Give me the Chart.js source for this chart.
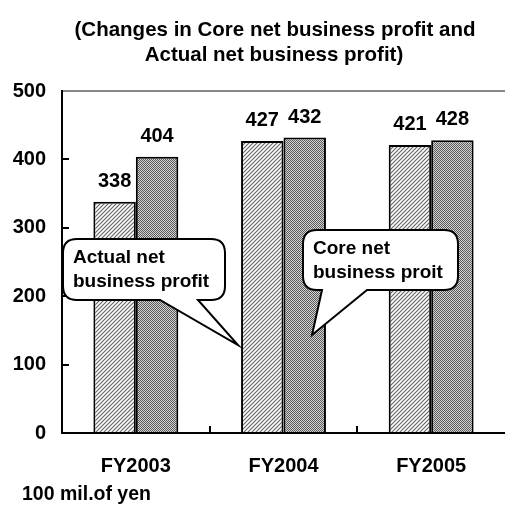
<!DOCTYPE html>
<html>
<head>
<meta charset="utf-8">
<script src="https://cdn.jsdelivr.net/npm/chart.js@4/dist/chart.umd.min.js"></script>
<style>
  html, body { margin: 0; padding: 0; background: #fff; overflow: hidden; }
</style>
</head>
<body>
<canvas id="chart" width="505" height="508"></canvas>
<script>
const years        = ['FY2003', 'FY2004', 'FY2005'];
const actualProfit = [338, 427, 421];
const coreProfit   = [404, 432, 428];
const yMax         = 500;
const yStep        = 100;
const titleLines   = ['(Changes in Core net business profit and', 'Actual net business profit)'];
const unitLabel    = '100 mil.of yen';
const actualNote   = ['Actual net', 'business profit'];
const coreNote     = ['Core net', 'business proit'];

const FONT = '"Liberation Sans", Arial, sans-serif';

/* ── Fill patterns ───────────────────────────────────────────── */

function hatchPattern(ctx) {
    const c = document.createElement('canvas');
    c.width = c.height = 4;
    const g = c.getContext('2d');
    g.fillStyle = '#fff';
    g.fillRect(0, 0, 4, 4);
    g.strokeStyle = '#666';
    g.lineWidth = 1.2;
    g.beginPath();
    g.moveTo(-1, 5); g.lineTo(5, -1);
    g.moveTo(-1, 1); g.lineTo(1, -1);
    g.moveTo(3, 5);  g.lineTo(5, 3);
    g.stroke();
    return ctx.createPattern(c, 'repeat');
}

function dotPattern(ctx) {
    const c = document.createElement('canvas');
    c.width = c.height = 2;
    const g = c.getContext('2d');
    g.fillStyle = '#d4d4d4';
    g.fillRect(0, 0, 2, 2);
    g.fillStyle = '#5a5a5a';
    g.fillRect(0, 0, 1, 1);
    g.fillRect(1, 1, 1, 1);
    return ctx.createPattern(c, 'repeat');
}

/* ── Callout drawing ─────────────────────────────────────────── */

function callout(ctx, box, tip, lines) {
    const { x, y, w, h, r, b1, b2 } = box;
    ctx.save();
    ctx.beginPath();
    ctx.moveTo(x + r, y);
    ctx.lineTo(x + w - r, y);
    ctx.quadraticCurveTo(x + w, y, x + w, y + r);
    ctx.lineTo(x + w, y + h - r);
    ctx.quadraticCurveTo(x + w, y + h, x + w - r, y + h);
    ctx.lineTo(b2, y + h);
    ctx.lineTo(tip.x, tip.y);
    ctx.lineTo(b1, y + h);
    ctx.lineTo(x + r, y + h);
    ctx.quadraticCurveTo(x, y + h, x, y + h - r);
    ctx.lineTo(x, y + r);
    ctx.quadraticCurveTo(x, y, x + r, y);
    ctx.closePath();
    ctx.fillStyle = '#fff';
    ctx.fill();
    ctx.lineWidth = 2;
    ctx.strokeStyle = '#000';
    ctx.stroke();
    ctx.fillStyle = '#000';
    ctx.font = 'bold 19px ' + FONT;
    ctx.textAlign = 'left';
    ctx.textBaseline = 'alphabetic';
    lines.forEach((t, i) => ctx.fillText(t, x + 10, y + 24 + i * 24));
    ctx.restore();
}

/* ── Extras plugin: title, ticks, value labels, notes ────────── */

const extras = {
    id: 'extras',
    afterDraw(chart) {
        const ctx = chart.ctx;
        const xs = chart.scales.x;
        const ys = chart.scales.y;
        const area = chart.chartArea;

        ctx.save();
        ctx.fillStyle = '#000';
        ctx.textAlign = 'center';
        ctx.textBaseline = 'alphabetic';
        ctx.font = 'bold 20.5px ' + FONT;
        ctx.fillText(titleLines[0], 275, 36);
        ctx.fillText(titleLines[1], 274, 61);

        // inward tick marks
        ctx.strokeStyle = '#000';
        ctx.lineWidth = 2;
        ctx.beginPath();
        for (let v = yStep; v < yMax; v += yStep) {
            const py = Math.round(ys.getPixelForValue(v));
            ctx.moveTo(area.left, py);
            ctx.lineTo(area.left + 7, py);
        }
        for (let i = 1; i < years.length; i++) {
            const px = Math.round((xs.getPixelForTick(i - 1) + xs.getPixelForTick(i)) / 2);
            ctx.moveTo(px, area.bottom);
            ctx.lineTo(px, area.bottom - 7);
        }
        ctx.stroke();

        // value labels
        ctx.font = 'bold 20px ' + FONT;
        chart.data.datasets.forEach((ds, di) => {
            chart.getDatasetMeta(di).data.forEach((bar, i) => {
                ctx.fillText(String(ds.data[i]), bar.x, bar.y - 15);
            });
        });

        // unit label
        ctx.textAlign = 'left';
        ctx.font = 'bold 19.5px ' + FONT;
        ctx.fillText(unitLabel, 22, 500);
        ctx.restore();

        callout(ctx, { x: 63, y: 239, w: 162, h: 61, r: 14, b1: 160, b2: 198 }, { x: 238, y: 345 }, actualNote);
        callout(ctx, { x: 303, y: 230, w: 155, h: 60, r: 14, b1: 322, b2: 367 }, { x: 312, y: 335 }, coreNote);
    }
};

/* ── Chart ───────────────────────────────────────────────────── */

const canvas = document.getElementById('chart');
const c2d = canvas.getContext('2d');

new Chart(canvas, {
    type: 'bar',
    data: {
        labels: years,
        datasets: [
            {
                label: 'Actual net business profit',
                data: actualProfit,
                backgroundColor: hatchPattern(c2d),
                borderColor: '#000',
                borderWidth: 2,
                categoryPercentage: 0.575,
                barPercentage: 1.0
            },
            {
                label: 'Core net business profit',
                data: coreProfit,
                backgroundColor: dotPattern(c2d),
                borderColor: '#000',
                borderWidth: 2,
                categoryPercentage: 0.575,
                barPercentage: 1.0
            }
        ]
    },
    options: {
        responsive: false,
        animation: false,
        layout: { padding: { top: 91, left: 0, right: 0, bottom: 0 } },
        plugins: {
            legend: { display: false },
            title: { display: false },
            tooltip: { enabled: false }
        },
        scales: {
            x: {
                grid: { display: false },
                border: { display: true, color: '#000', width: 2 },
                ticks: { color: '#000', font: { family: FONT, size: 20, weight: 'bold' }, padding: 13 },
                afterFit: s => { s.height = 75; }
            },
            y: {
                min: 0,
                max: yMax,
                ticks: { stepSize: yStep, color: '#000', font: { family: FONT, size: 20, weight: 'bold' }, padding: 16 },
                grid: {
                    drawTicks: false,
                    color: c => c.tick && c.tick.value === yMax ? '#888' : 'rgba(0,0,0,0)',
                    lineWidth: 2
                },
                border: { display: true, color: '#000', width: 2 },
                afterFit: s => { s.width = 62; }
            }
        }
    },
    plugins: [extras]
});
</script>
</body>
</html>
